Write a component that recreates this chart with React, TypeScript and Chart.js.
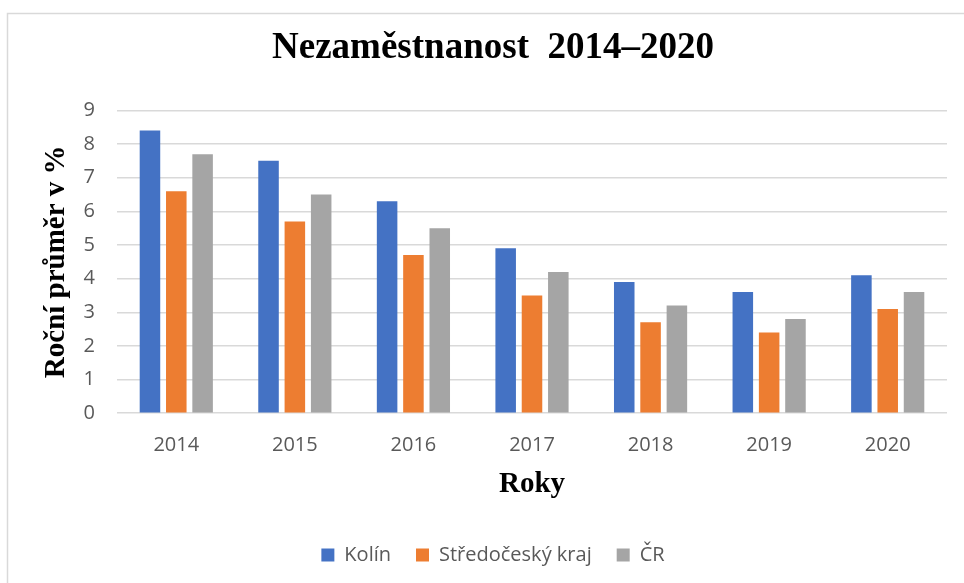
import React, { useEffect, useRef } from "react";
import { Chart, registerables } from "chart.js";

Chart.register(...registerables);

const years = ["2014", "2015", "2016", "2017", "2018", "2019", "2020"];
const kolin = [8.4, 7.5, 6.3, 4.9, 3.9, 3.6, 4.1];
const stredocesky = [6.6, 5.7, 4.7, 3.5, 2.7, 2.4, 3.1];
const cr = [7.7, 6.5, 5.5, 4.2, 3.2, 2.8, 3.6];
const seriesNames = ["Kolín", "Středočeský kraj", "ČR"];
const seriesColors = ["#4472C4", "#ED7D31", "#A5A5A5"];
const yTicks = [0, 1, 2, 3, 4, 5, 6, 7, 8, 9];

const frame = {
  id: "frame",
  beforeDraw(chart: any) {
    const ctx = chart.ctx;
    ctx.save();
    ctx.fillStyle = "#ffffff";
    ctx.fillRect(0, 0, chart.width, chart.height);
    ctx.strokeStyle = "#d9d9d9";
    ctx.lineWidth = 1.5;
    ctx.beginPath();
    ctx.moveTo(7.5, chart.height);
    ctx.lineTo(7.5, 13.5);
    ctx.lineTo(chart.width, 13.5);
    ctx.stroke();
    ctx.restore();
  },
};

export default function App() {
  const ref = useRef<HTMLCanvasElement | null>(null);
  useEffect(() => {
    if (!ref.current) return;
    const chart = new Chart(ref.current, {
      type: "bar",
      data: {
        labels: years,
        datasets: [kolin, stredocesky, cr].map((d, i) => ({
          label: seriesNames[i],
          data: d,
          backgroundColor: seriesColors[i],
          borderWidth: 0,
          categoryPercentage: 0.666,
          barPercentage: 0.78,
        })),
      },
      options: {
        animation: false,
        responsive: false,
        layout: { padding: { top: 0, left: 39, right: 17, bottom: 8 } },
        plugins: {
          title: {
            display: true,
            text: "Nezaměstnanost  2014–2020",
            color: "#000000",
            font: { family: "'Liberation Serif', 'Times New Roman', serif", size: 37, weight: "bold" },
            padding: { top: 26, bottom: 40 },
          },
          legend: {
            position: "bottom",
            labels: {
              boxWidth: 13,
              boxHeight: 13,
              padding: 25,
              color: "#595959",
              font: { family: "'Open Sans', sans-serif", size: 20 },
            },
          },
          tooltip: { enabled: false },
        },
        scales: {
          x: {
            grid: { display: false, drawTicks: false },
            border: { display: false },
            afterFit: (scale: any) => {
              scale.height = scale.height - 20;
            },
            ticks: {
              color: "#595959",
              padding: 20,
              font: { family: "'Open Sans', sans-serif", size: 20 },
            },
            title: {
              display: true,
              text: "Roky",
              color: "#000000",
              font: { family: "'Liberation Serif', 'Times New Roman', serif", size: 29, weight: "bold" },
              padding: { top: 10, bottom: 18 },
            },
          },
          y: {
            min: 0,
            max: 9,
            afterBuildTicks: (scale: any) => {
              scale.ticks = yTicks.map((v) => ({ value: v }));
            },
            afterFit: (scale: any) => {
              scale.width = 78;
            },
            grid: { color: "#d9d9d9", lineWidth: 1.5, drawTicks: false },
            border: { display: false },
            ticks: {
              color: "#595959",
              padding: 22,
              font: { family: "'Open Sans', sans-serif", size: 20 },
            },
            title: {
              display: true,
              text: "Roční průměr v %",
              color: "#000000",
              font: { family: "'Liberation Serif', 'Times New Roman', serif", size: 29, weight: "bold" },
              padding: { top: 0, bottom: 0 },
            },
          },
        },
      },
      plugins: [frame],
    });
    return () => chart.destroy();
  }, []);
  return (
    <div style={{ position: "fixed", left: 0, top: 0, width: 964, height: 583 }}>
      <canvas ref={ref} width={964} height={583} style={{ display: "block" }} />
    </div>
  );
}
